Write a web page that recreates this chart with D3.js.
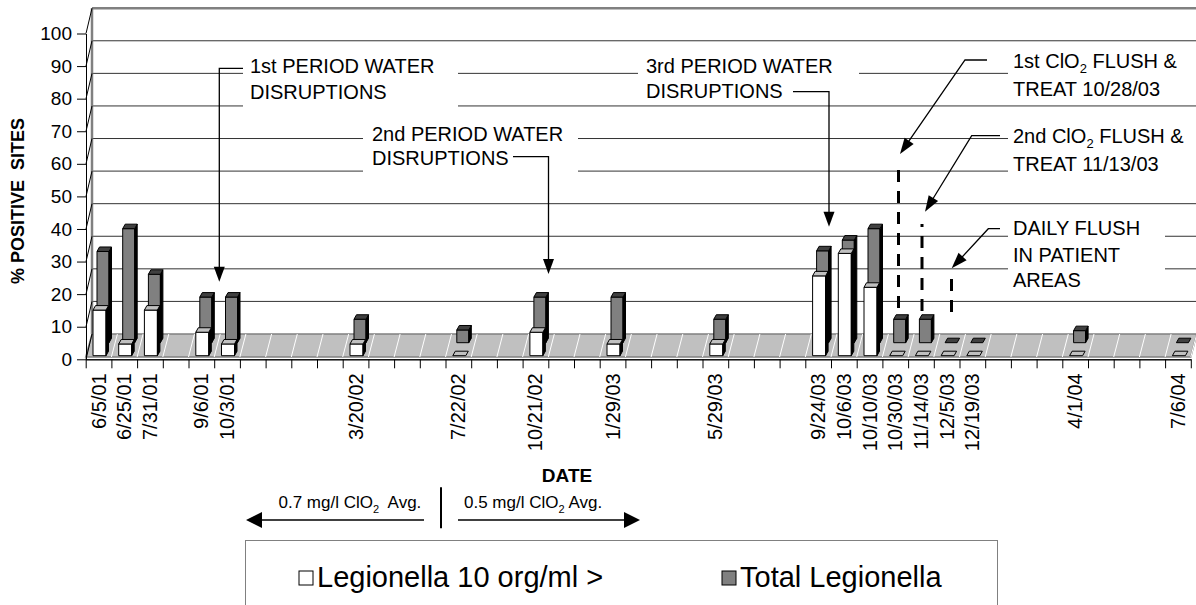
<!DOCTYPE html>
<html>
<head>
<meta charset="utf-8">
<script src="https://cdn.jsdelivr.net/npm/d3@7"></script>
<style>
  body { margin: 0; background: #fff; }
  svg { display: block; font-family: "Liberation Sans", Arial, sans-serif; }
  text { white-space: pre; }
</style>
</head>
<body>
<svg id="chart" width="1196" height="605"></svg>
<script>
// one slot per month-ish, blank slots have no sample
var categories = [
  "6/5/01", "6/25/01", "7/31/01", "", "9/6/01", "10/3/01", "", "", "", "",
  "3/20/02", "", "", "", "7/22/02", "", "", "10/21/02", "", "",
  "1/29/03", "", "", "", "5/29/03", "", "", "", "9/24/03", "10/6/03",
  "10/10/03", "10/30/03", "11/14/03", "12/5/03", "12/19/03", "", "", "", "4/1/04", "",
  "", "", "7/6/04"
];
var legionella10 = [
  14, 3.6, 14, null, 7.2, 3.6, null, null, null, null,
  3.6, null, null, null, 0, null, null, 7.2, null, null,
  3.6, null, null, null, 3.6, null, null, null, 24.5, 31.4,
  21, 0, 0, 0, 0, null, null, null, 0, null,
  null, null, 0
];
var totalLegionella = [
  28, 35, 21, null, 14, 14, null, null, null, null,
  7.2, null, null, null, 3.9, null, null, 14, null, null,
  14, null, null, null, 7.2, null, null, null, 28.2, 31.5,
  35, 7.2, 7.2, 0, 0, null, null, null, 3.7, null,
  null, null, 0
];
var yTicks = [0, 10, 20, 30, 40, 50, 60, 70, 80, 90, 100];
var seriesNames = ["Legionella 10 org/ml >", "Total Legionella"];

var svg = d3.select("#chart");

var axisX = 86,
  wallX = 92,
  floorFront = 357,
  floorBack = 334,
  depthDx = 6;

var x = d3.scaleBand().domain(d3.range(categories.length)).range([85.7, 1190.8]).padding(0),
  xEdge = d3.scaleLinear().domain([0, categories.length]).range([85.7, 1190.8]),
  yFront = d3.scaleLinear().domain([0, 100]).range([359.3, 33.5]),
  yBack = d3.scaleLinear().domain([0, 100]).range([334, 8.2]),
  h = d3.scaleLinear().domain([0, 100]).range([0, 325.8]);

// floor
svg.append("polygon")
  .attr("points", [[xEdge(0), floorFront], [xEdge(categories.length), floorFront],
    [xEdge(categories.length) + depthDx, floorBack], [wallX, floorBack]].join(" "))
  .attr("fill", "#c0c0c0")
  .attr("stroke", "#808080")
  .attr("stroke-width", 1.5);

svg.append("g")
  .selectAll("line")
  .data(d3.range(1, categories.length + 1))
  .enter()
  .append("line")
  .attr("x1", (d) => xEdge(d))
  .attr("y1", floorFront)
  .attr("x2", (d) => xEdge(d) + depthDx)
  .attr("y2", floorBack)
  .attr("stroke", "#fff")
  .attr("stroke-width", 1);

// back wall gridlines
svg.append("g")
  .selectAll("line")
  .data(yTicks.filter((v) => v > 0 && v < 100))
  .enter()
  .append("line")
  .attr("x1", wallX)
  .attr("x2", 1196)
  .attr("y1", (d) => yBack(d))
  .attr("y2", (d) => yBack(d))
  .attr("stroke", "#333")
  .attr("stroke-width", 1);

svg.append("line")
  .attr("x1", wallX).attr("x2", 1196)
  .attr("y1", yBack(100)).attr("y2", yBack(100))
  .attr("stroke", "#808080").attr("stroke-width", 2.5);
svg.append("line")
  .attr("x1", wallX).attr("x2", wallX)
  .attr("y1", yBack(100)).attr("y2", yBack(0))
  .attr("stroke", "#808080").attr("stroke-width", 2.5);

// side wall tick slants
svg.append("g")
  .selectAll("line")
  .data(yTicks)
  .enter()
  .append("line")
  .attr("x1", axisX)
  .attr("y1", (d) => yFront(d))
  .attr("x2", wallX)
  .attr("y2", (d) => yBack(d))
  .attr("stroke", "#000")
  .attr("stroke-width", 1);

// white boxes behind the notes (they cut the gridlines)
var boxes = [
  [243, 46, 215, 66], [363, 115, 215, 65], [638, 48, 221, 54],
  [1008, 48, 190, 54], [1008, 115, 190, 65], [1008, 212, 157, 86]
];
svg.append("g")
  .selectAll("rect")
  .data(boxes)
  .enter()
  .append("rect")
  .attr("x", (d) => d[0]).attr("y", (d) => d[1])
  .attr("width", (d) => d[2]).attr("height", (d) => d[3])
  .attr("fill", "#fff");

// axes
var yAxisG = svg.append("g")
  .attr("transform", "translate(" + axisX + ",0)")
  .call(d3.axisLeft(yFront).tickValues(yTicks).tickSize(9).tickPadding(5).tickSizeOuter(0));
yAxisG.attr("font-size", 19).attr("font-family", null);
yAxisG.selectAll("line, path").attr("stroke", "#000");
yAxisG.selectAll("text").attr("fill", "#000");

var xAxisG = svg.append("g")
  .attr("transform", "translate(0,359.3)")
  .call(d3.axisBottom(x).tickSize(0).tickSizeOuter(0).tickFormat((i) => categories[i]));
xAxisG.attr("font-size", 20).attr("font-family", null);
xAxisG.select("path").attr("stroke", "#000");
xAxisG.selectAll("text")
  .attr("transform", "rotate(-90)")
  .attr("x", -14)
  .attr("y", 0)
  .attr("dy", "0.35em")
  .style("text-anchor", "end")
  .attr("fill", "#000");

var edgeG = svg.append("g")
  .attr("transform", "translate(0,359.3)")
  .call(d3.axisBottom(xEdge).tickValues(d3.range(categories.length + 1)).tickSize(9).tickSizeOuter(0).tickFormat(""));
edgeG.selectAll("line, path").attr("stroke", "#000");

// 3d columns
var barDx = 2.5,
  barDy = 4.5;

function drawRow(values, xOff, w, base, cFront, cTop) {
  var rows = values
    .map((v, i) => ({ v: v, i: i }))
    .filter((d) => d.v !== null);
  var g = svg.append("g").attr("stroke", "#000").attr("stroke-width", 1).attr("stroke-linejoin", "round");

  rows.forEach((d) => {
    var x0 = x(d.i) + xOff,
      x1 = x0 + w,
      yt = base - h(d.v);
    if (d.v > 0) {
      g.append("rect")
        .attr("x", x0).attr("y", yt)
        .attr("width", w).attr("height", base - yt)
        .attr("fill", cFront);
      g.append("polygon")
        .attr("points", [[x1, yt], [x1 + barDx, yt - barDy], [x1 + barDx, base - barDy], [x1, base]].join(" "))
        .attr("fill", "#000");
    }
    g.append("polygon")
      .attr("points", [[x0, yt], [x1, yt], [x1 + barDx, yt - barDy], [x0 + barDx, yt - barDy]].join(" "))
      .attr("fill", cTop);
  });
}

drawRow(totalLegionella, 11.3, 12, 342.7, "#808080", "#404040");
drawRow(legionella10, 7.3, 13, 355.7, "#fff", "#c0c0c0");

// text helpers
function addText(xp, yp, str, size, sub, weight) {
  var t = svg.append("text")
    .attr("x", xp)
    .attr("y", yp)
    .attr("fill", "#000")
    .style("font-size", size + "px")
    .style("font-weight", weight || "normal");
  var parts = str.split("_2");
  parts.forEach((p, k) => {
    if (k > 0) {
      t.append("tspan").attr("dy", sub * 0.4).style("font-size", sub + "px").text("2");
    }
    t.append("tspan").attr("dy", k > 0 ? -sub * 0.4 : 0).text(p);
  });
  return t;
}

function arrow(pts, L, W, sw) {
  var tip = pts[pts.length - 1],
    prev = pts[pts.length - 2],
    dx = tip[0] - prev[0],
    dy = tip[1] - prev[1],
    len = Math.hypot(dx, dy),
    ux = dx / len,
    uy = dy / len,
    bx = tip[0] - ux * L,
    by = tip[1] - uy * L;
  var linePts = pts.slice(0, -1).concat([[bx + ux * 2, by + uy * 2]]);
  svg.append("path")
    .attr("d", d3.line()(linePts))
    .attr("fill", "none")
    .attr("stroke", "#000")
    .attr("stroke-width", sw || 1.3);
  svg.append("polygon")
    .attr("points", [tip, [bx - uy * W, by + ux * W], [bx + uy * W, by - ux * W]].join(" "))
    .attr("fill", "#000");
}

// notes
addText(250, 73.3, "1st PERIOD WATER", 20, 13);
addText(250, 99, "DISRUPTIONS", 20, 13);
arrow([[243, 68.3], [219.3, 68.3], [219.3, 281.7]], 15, 5.5);

addText(372, 140.7, "2nd PERIOD WATER", 20, 13);
addText(372, 165.3, "DISRUPTIONS", 20, 13);
arrow([[513, 156.7], [548.5, 156.7], [548.5, 274]], 15, 5.5);

addText(646, 73.3, "3rd PERIOD WATER", 20, 13);
addText(646, 98.3, "DISRUPTIONS", 20, 13);
arrow([[793, 91.7], [829, 91.7], [829, 226.7]], 15, 5.5);

addText(1013, 67.7, "1st ClO_2 FLUSH &", 20, 13);
addText(1013, 96, "TREAT 10/28/03", 20, 13);
arrow([[987, 60], [965, 60], [900, 154]], 16, 5.5);

addText(1013, 142.7, "2nd ClO_2 FLUSH &", 20, 13);
addText(1013, 170.7, "TREAT 11/13/03", 20, 13);
arrow([[1000, 135.7], [971.7, 135.7], [925, 211.7]], 16, 5.5);

addText(1013, 235, "DAILY FLUSH", 20, 13);
addText(1013, 261.7, "IN PATIENT", 20, 13);
addText(1013, 287.3, "AREAS", 20, 13);
arrow([[1000, 228.7], [988.3, 228.7], [951.7, 268.3]], 16, 5.5);

// treatment markers
var dashes = [[898.5, 170, 315, 0], [922, 224, 315, 9], [951.5, 279, 313, 0]];
svg.append("g")
  .selectAll("line")
  .data(dashes)
  .enter()
  .append("line")
  .attr("x1", (d) => d[0]).attr("x2", (d) => d[0])
  .attr("y1", (d) => d[1]).attr("y2", (d) => d[2])
  .attr("stroke", "#000")
  .attr("stroke-width", 3)
  .attr("stroke-dasharray", "12,9")
  .attr("stroke-dashoffset", (d) => d[3]);

// axis titles
svg.append("text")
  .attr("transform", "translate(23.5,201) rotate(-90)")
  .attr("text-anchor", "middle")
  .style("font-size", "18px")
  .style("font-weight", "bold")
  .text("% POSITIVE  SITES");

svg.append("text")
  .attr("x", 567)
  .attr("y", 481.7)
  .attr("text-anchor", "middle")
  .style("font-size", "19px")
  .style("font-weight", "bold")
  .text("DATE");

// dose periods
addText(278.5, 508.3, "0.7 mg/l ClO_2  Avg.", 17, 11);
addText(464, 508.3, "0.5 mg/l ClO_2 Avg.", 17, 11);
arrow([[424, 520], [246, 520]], 16, 8, 1.5);
arrow([[458, 520], [640, 520]], 16, 8, 1.5);
svg.append("line")
  .attr("x1", 441).attr("x2", 441)
  .attr("y1", 487.3).attr("y2", 528.3)
  .attr("stroke", "#000").attr("stroke-width", 2);

// legend
svg.append("rect")
  .attr("x", 245.5).attr("y", 540.5)
  .attr("width", 752).attr("height", 90)
  .attr("fill", "#fff")
  .attr("stroke", "#808080")
  .attr("stroke-width", 1);

var legend = svg.append("g")
  .selectAll("g")
  .data(seriesNames)
  .enter()
  .append("g")
  .attr("transform", (d, i) => "translate(" + (i === 0 ? 299 : 722) + ",571)");
legend.append("rect")
  .attr("width", 14).attr("height", 14)
  .attr("fill", (d, i) => (i === 0 ? "#fff" : "#808080"))
  .attr("stroke", "#000")
  .attr("stroke-width", 1);
legend.append("text")
  .attr("x", 18)
  .attr("y", 16)
  .style("font-size", "29px")
  .text((d) => d);
</script>
</body>
</html>
